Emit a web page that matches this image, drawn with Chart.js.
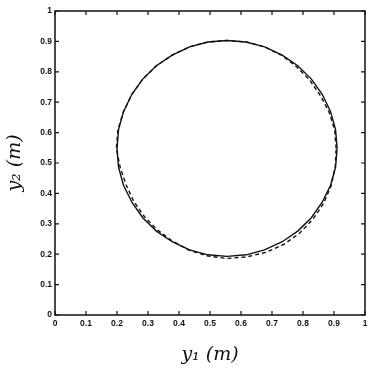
<!DOCTYPE html>
<html>
<head>
<meta charset="utf-8">
<script src="https://cdn.jsdelivr.net/npm/chart.js@4/dist/chart.umd.min.js"></script>
<style>
  html, body { margin: 0; padding: 0; background: #fff; }
  #wrap { width: 373px; height: 370px; }
</style>
</head>
<body>
<div id="wrap"><canvas id="orbitChart"></canvas></div>
<script>
// solid trajectory (y1, y2)
const solidY1 = [0.910, 0.905, 0.889, 0.862, 0.827, 0.783, 0.733, 0.676, 0.617, 0.555, 0.493, 0.434, 0.378, 0.327, 0.283, 0.248, 0.221, 0.205,
                 0.200, 0.205, 0.221, 0.248, 0.283, 0.327, 0.378, 0.434, 0.493, 0.555, 0.617, 0.676, 0.733, 0.783, 0.827, 0.862, 0.889, 0.905, 0.910];
const solidY2 = [0.548, 0.610, 0.669, 0.726, 0.776, 0.820, 0.855, 0.882, 0.898, 0.903, 0.898, 0.882, 0.855, 0.820, 0.776, 0.726, 0.669, 0.610,
                 0.548, 0.486, 0.427, 0.371, 0.320, 0.276, 0.241, 0.214, 0.198, 0.193, 0.198, 0.214, 0.241, 0.276, 0.320, 0.371, 0.427, 0.486, 0.548];
// dashed trajectory
const dashY1 = [0.907, 0.902, 0.884, 0.856, 0.822, 0.780, 0.732, 0.676, 0.617, 0.555, 0.493, 0.434, 0.378, 0.327, 0.283, 0.248, 0.221, 0.203,
                0.198, 0.210, 0.229, 0.254, 0.288, 0.330, 0.379, 0.433, 0.493, 0.555, 0.618, 0.680, 0.738, 0.789, 0.832, 0.867, 0.891, 0.904, 0.907];
const dashY2 = [0.548, 0.609, 0.668, 0.722, 0.772, 0.816, 0.854, 0.882, 0.898, 0.903, 0.898, 0.882, 0.855, 0.820, 0.776, 0.726, 0.669, 0.610,
                0.548, 0.487, 0.429, 0.374, 0.324, 0.280, 0.243, 0.213, 0.194, 0.186, 0.191, 0.206, 0.232, 0.269, 0.315, 0.368, 0.426, 0.487, 0.548];
const tickValues = [0, 0.1, 0.2, 0.3, 0.4, 0.5, 0.6, 0.7, 0.8, 0.9, 1];

const toPoints = (xs, ys) => xs.map((x, i) => ({ x: x, y: ys[i] }));

// matlab style box with inward ticks on all four sides
const boxTicks = {
    id: 'boxTicks',
    afterDatasetsDraw(chart) {
        const ctx = chart.ctx;
        const a = chart.chartArea;
        const xs = chart.scales.x, ys = chart.scales.y;
        ctx.save();
        ctx.strokeStyle = '#111';
        ctx.lineWidth = 1.5;
        ctx.strokeRect(a.left, a.top, a.right - a.left, a.bottom - a.top);
        ctx.lineWidth = 1.2;
        ctx.beginPath();
        tickValues.forEach(v => {
            const px = xs.getPixelForValue(v);
            const py = ys.getPixelForValue(v);
            ctx.moveTo(px, a.bottom); ctx.lineTo(px, a.bottom - 4);
            ctx.moveTo(px, a.top); ctx.lineTo(px, a.top + 4);
            ctx.moveTo(a.left, py); ctx.lineTo(a.left + 4, py);
            ctx.moveTo(a.right, py); ctx.lineTo(a.right - 4, py);
        });
        ctx.stroke();
        ctx.restore();
    }
};

const tickFont = { family: 'Liberation Sans', size: 8.5, weight: 'bold' };
const titleFont = { family: 'DejaVu Serif', size: 19, style: 'italic' };
const label = v => (v === 0 || v === 1) ? String(v) : v.toFixed(1);

new Chart(document.getElementById('orbitChart').getContext('2d'), {
    type: 'scatter',
    data: {
        datasets: [{
            data: toPoints(solidY1, solidY2),
            showLine: true,
            borderColor: '#111',
            borderWidth: 1.4,
            pointRadius: 0,
            fill: false
        }, {
            data: toPoints(dashY1, dashY2),
            showLine: true,
            borderColor: '#111',
            borderWidth: 1.4,
            borderDash: [4, 3],
            pointRadius: 0,
            fill: false
        }]
    },
    options: {
        responsive: true,
        maintainAspectRatio: false,
        animation: false,
        layout: { padding: { top: 11, right: 8, left: 0, bottom: 0 } },
        plugins: { legend: { display: false }, tooltip: { enabled: false } },
        scales: {
            x: {
                type: 'linear', min: 0, max: 1,
                afterBuildTicks: s => { s.ticks = tickValues.map(v => ({ value: v })); },
                afterFit: s => { s.height = 55; },
                grid: { display: false, drawTicks: false },
                border: { display: false },
                ticks: { font: tickFont, color: '#111', padding: 4, maxRotation: 0, autoSkip: false, callback: label },
                title: { display: true, text: 'y₁ (m)', font: titleFont, color: '#111', padding: { top: 12 } }
            },
            y: {
                type: 'linear', min: 0, max: 1,
                afterBuildTicks: s => { s.ticks = tickValues.map(v => ({ value: v })); },
                afterFit: s => { s.width = 55; },
                grid: { display: false, drawTicks: false },
                border: { display: false },
                ticks: { font: tickFont, color: '#111', padding: 3, autoSkip: false, callback: label },
                title: { display: true, text: 'y₂ (m)', font: titleFont, color: '#111', padding: { bottom: 0 } }
            }
        }
    },
    plugins: [boxTicks]
});
</script>
</body>
</html>
